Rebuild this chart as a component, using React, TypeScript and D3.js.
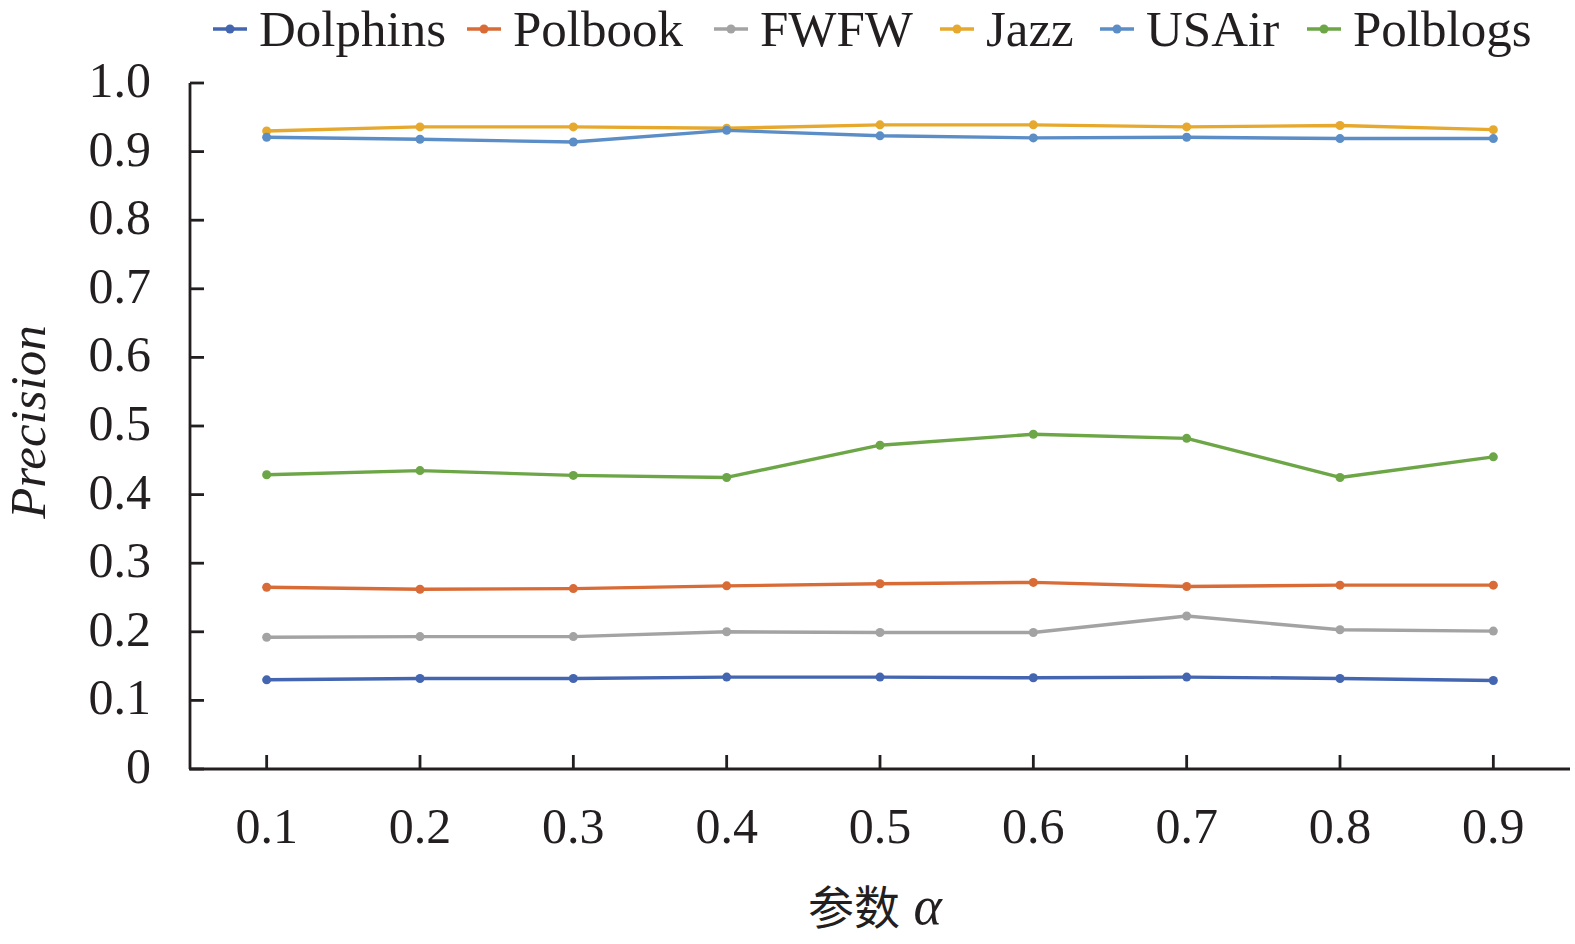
import React from "react";
import * as d3 from "d3";

const categories = ["0.1", "0.2", "0.3", "0.4", "0.5", "0.6", "0.7", "0.8", "0.9"];
const yTicks = [0, 0.1, 0.2, 0.3, 0.4, 0.5, 0.6, 0.7, 0.8, 0.9, 1.0];

const dolphins = [0.130, 0.132, 0.132, 0.134, 0.134, 0.133, 0.134, 0.132, 0.129];
const polbook = [0.265, 0.262, 0.263, 0.267, 0.270, 0.272, 0.266, 0.268, 0.268];
const fwfw = [0.192, 0.193, 0.193, 0.200, 0.199, 0.199, 0.223, 0.203, 0.201];
const jazz = [0.930, 0.936, 0.936, 0.934, 0.939, 0.939, 0.936, 0.938, 0.932];
const usair = [0.921, 0.918, 0.914, 0.931, 0.923, 0.920, 0.921, 0.919, 0.919];
const polblogs = [0.429, 0.435, 0.428, 0.425, 0.472, 0.488, 0.482, 0.425, 0.455];

const seriesNames = ["Dolphins", "Polbook", "FWFW", "Jazz", "USAir", "Polblogs"];
const seriesValues = [dolphins, polbook, fwfw, jazz, usair, polblogs];
const seriesColors = ["#4466B0", "#D96B37", "#A3A3A3", "#E6A92E", "#5B8DC6", "#6CA647"];

const W = 1575;
const H = 944;
const serif = "'Liberation Serif', 'Times New Roman', serif";

export default function App() {
  const x = d3.scaleBand<string>().domain(categories).range([190, 1570]);
  const y = d3.scaleLinear().domain([0, 1]).range([769, 83]);
  const cx = (c: string) => (x(c) as number) + x.bandwidth() / 2;
  const line = d3
    .line<number>()
    .x((_, i) => cx(categories[i]))
    .y((v) => y(v));

  const legendX = [213, 467, 714, 940, 1100, 1307];

  return (
    <svg
      width={W}
      height={H}
      style={{ position: "absolute", left: 0, top: 0, background: "#fff" }}
      fontFamily={serif}
    >
      <rect x={0} y={0} width={W} height={H} fill="#fff" />
      {/* series */}
      {seriesValues.map((vals, si) => (
        <g key={seriesNames[si]}>
          <path d={line(vals) || ""} fill="none" stroke={seriesColors[si]} strokeWidth={3.4} strokeLinejoin="round" />
          {vals.map((v, i) => (
            <circle key={i} cx={cx(categories[i])} cy={y(v)} r={4.5} fill={seriesColors[si]} />
          ))}
        </g>
      ))}
      {/* y axis */}
      <line x1={190} x2={190} y1={y(1)} y2={y(0)} stroke="#231f20" strokeWidth={2.8} />
      {yTicks.map((t) => (
        <g key={t}>
          <line x1={190} x2={204} y1={y(t)} y2={y(t)} stroke="#231f20" strokeWidth={2.8} />
          <text x={151} y={y(t) + 14} textAnchor="end" fontSize={50} fill="#231f20">
            {t === 0 ? "0" : t.toFixed(1)}
          </text>
        </g>
      ))}
      {/* x axis */}
      <line x1={189} x2={1570} y1={y(0)} y2={y(0)} stroke="#231f20" strokeWidth={2.8} />
      {categories.map((c) => (
        <g key={c}>
          <line x1={cx(c)} x2={cx(c)} y1={y(0)} y2={y(0) - 14} stroke="#231f20" strokeWidth={2.8} />
          <text x={cx(c)} y={843} textAnchor="middle" fontSize={50} fill="#231f20">
            {c}
          </text>
        </g>
      ))}
      {/* axis titles */}
      <text
        transform="translate(45,422) rotate(-90)"
        textAnchor="middle"
        fontSize={51}
        fontStyle="italic"
        fill="#231f20"
      >
        Precision
      </text>
      <text x={875} y={924} textAnchor="middle" fontSize={48} fill="#231f20">
        <tspan fontFamily="'Noto Sans CJK SC', sans-serif" fontSize={46}>参数</tspan>
        <tspan fontStyle="italic" fontFamily={serif} fontSize={54}> α</tspan>
      </text>
      {/* legend */}
      {seriesNames.map((n, i) => (
        <g key={n}>
          <line x1={legendX[i]} x2={legendX[i] + 34} y1={29} y2={29} stroke={seriesColors[i]} strokeWidth={3.4} />
          <circle cx={legendX[i] + 17} cy={29} r={4.5} fill={seriesColors[i]} />
          <text x={legendX[i] + 46} y={46} fontSize={51} fill="#231f20">
            {n}
          </text>
        </g>
      ))}
    </svg>
  );
}
